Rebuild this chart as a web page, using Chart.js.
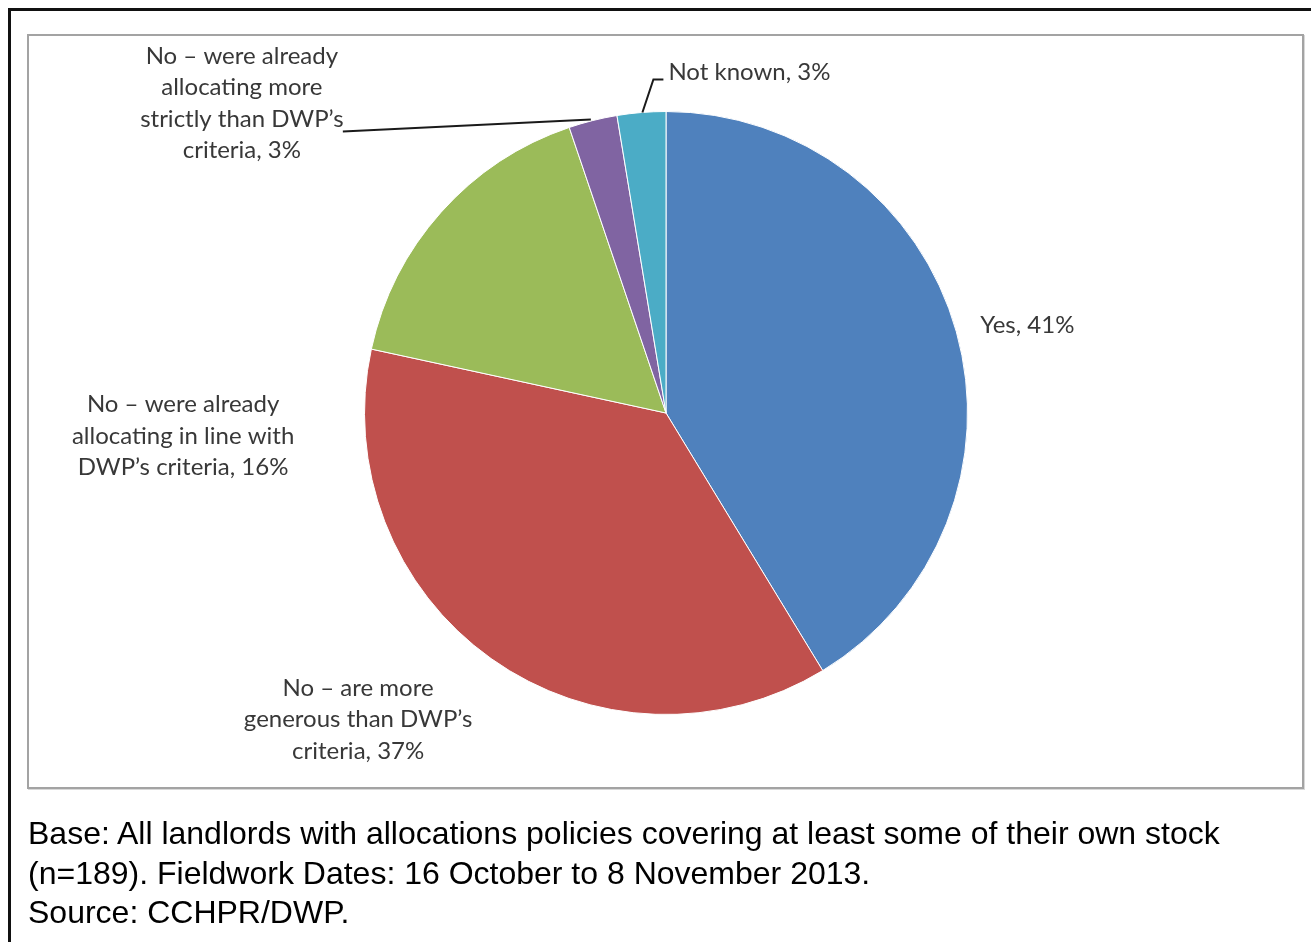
<!DOCTYPE html>
<html>
<head>
<meta charset="utf-8">
<script src="https://cdn.jsdelivr.net/npm/chart.js@4"></script>
<style>
  * { box-sizing: border-box; }
  body { margin: 0; width: 1311px; height: 942px; overflow: hidden; background: #fff; position: relative; font-family: "Liberation Sans", Arial, sans-serif; }
  .frame { position: absolute; left: 8px; top: 8px; width: 1400px; height: 1000px; border: 3px solid #111; }
  .plot-box { position: absolute; left: 27px; top: 34px; width: 1277px; height: 755px; border: 2px solid #a3a3a3; box-shadow: 1px 1px 0 #d8d8d8; }
  .chart-wrap { position: absolute; left: 0; top: 0; width: 1311px; height: 942px; }
  .caption { position: absolute; left: 28px; top: 814px; font-size: 32px; line-height: 39.5px; color: #000; white-space: nowrap; }
</style>
</head>
<body>
<div class="frame"></div>
<div class="plot-box"></div>
<div class="chart-wrap"><canvas id="pieChart"></canvas></div>
<div class="caption">
  Base: All landlords with allocations policies covering at least some of their own stock<br>
  (n=189). Fieldwork Dates: 16 October to 8 November 2013.<br>
  Source: CCHPR/DWP.
</div>

<script>
// DATA
const categories = [
  "Yes",
  "No – are more generous than DWP’s criteria",
  "No – were already allocating in line with DWP’s criteria",
  "No – were already allocating more strictly than DWP’s criteria",
  "Not known"
];
const shares = [41.3, 37.1, 16.4, 2.6, 2.6];

// label text, one line per entry
const labelLines = [
  ["Yes, 41%"],
  ["No – are more", "generous than DWP’s", "criteria, 37%"],
  ["No – were already", "allocating in line with", "DWP’s criteria, 16%"],
  ["No – were already", "allocating more", "strictly than DWP’s", "criteria, 3%"],
  ["Not known, 3%"]
];

const colors = ["#4f81bd", "#c0504d", "#9bbb59", "#8064a2", "#4bacc6"];

// label placement relative to the slice's outer edge point (mid angle)
const labelLayout = [
  { dx: 24, dy: -6, align: "left" },
  { dx: -133, dy: 61, align: "center" },
  { dx: -258, dy: 224, align: "center" },
  { dx: -351, dy: -17, align: "center" },
  { dx: 27, dy: -40, align: "left" }
];
// leader lines, points relative to the same edge point
const leaders = [
  null, null, null,
  [[-2, -1], [-250, 11]],
  [[1, 0], [12, -33], [22, -33]]
];

const sliceLabels = {
  id: "sliceLabels",
  afterDatasetsDraw(chart) {
    const ctx = chart.ctx;
    const arcs = chart.getDatasetMeta(0).data;
    ctx.save();
    ctx.font = "24px Lato";
    ctx.fillStyle = "#383838";
    ctx.textBaseline = "middle";
    const lh = 31.5;
    arcs.forEach((arc, i) => {
      const mid = (arc.startAngle + arc.endAngle) / 2;
      const ex = arc.x + Math.cos(mid) * arc.outerRadius;
      const ey = arc.y + Math.sin(mid) * arc.outerRadius;
      const lead = leaders[i];
      if (lead) {
        ctx.beginPath();
        ctx.strokeStyle = "#1a1a1a";
        ctx.lineWidth = 2;
        lead.forEach((p, k) => {
          if (k === 0) ctx.moveTo(ex + p[0], ey + p[1]);
          else ctx.lineTo(ex + p[0], ey + p[1]);
        });
        ctx.stroke();
      }
      const lay = labelLayout[i];
      const lines = labelLines[i];
      ctx.textAlign = lay.align;
      const y0 = ey + lay.dy - (lines.length - 1) * lh / 2;
      lines.forEach((t, k) => ctx.fillText(t, ex + lay.dx, y0 + k * lh));
    });
    ctx.restore();
  }
};

new Chart(document.getElementById("pieChart"), {
  type: "pie",
  data: {
    labels: categories,
    datasets: [{
      data: shares,
      backgroundColor: colors,
      borderColor: "#ffffff",
      borderWidth: 1
    }]
  },
  options: {
    responsive: true,
    maintainAspectRatio: false,
    animation: false,
    layout: { padding: { left: 364, right: 343, top: 111, bottom: 227 } },
    plugins: { legend: { display: false }, tooltip: { enabled: false } }
  },
  plugins: [sliceLabels]
});
</script>
</body>
</html>
